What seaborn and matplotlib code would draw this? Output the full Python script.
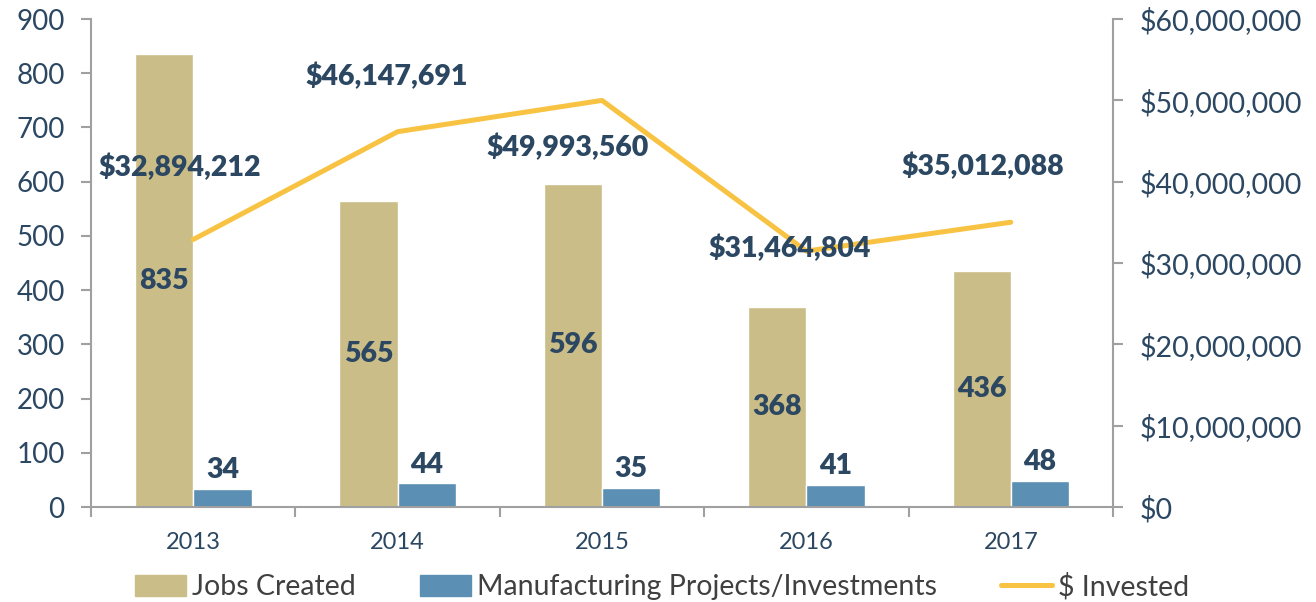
import pandas as pd
import numpy as np
import seaborn as sns
from matplotlib import pyplot as plt
from matplotlib.lines import Line2D
from matplotlib.patches import Patch

# datos
years = ['2013', '2014', '2015', '2016', '2017']
jobs_created = [835, 565, 596, 368, 436]
manufacturing = [34, 44, 35, 41, 48]
invested = [32894212, 46147691, 49993560, 31464804, 35012088]

# desplazamiento (puntos) de las etiquetas de la linea
label_offsets = [(-10, 52), (-8, 40), (-25, -34), (-12, 2), (-20, 40)]

c_tan = '#CABD87'
c_blue = '#5B8FB3'
c_line = '#F8C343'
c_text = '#2B4761'
c_axis = '#A0A0A0'

sns.set_style('white')
plt.rcParams['font.family'] = ['Lato', 'DejaVu Sans']

df = pd.DataFrame({
    'year': years * 2,
    'value': jobs_created + manufacturing,
    'serie': ['Jobs Created'] * 5 + ['Manufacturing Projects/Investments'] * 5,
})

fig = plt.figure(figsize=(13.16, 6.02), dpi=100)
ax = fig.add_axes([0.0692, 0.1578, 0.7765, 0.8106])
sns.barplot(data=df, x='year', y='value', hue='serie', palette=[c_tan, c_blue],
            width=0.57, gap=0, saturation=1, ax=ax, legend=False)
ax.set_xlim(-0.5, 4.5)
ax.set_ylim(0, 900)
ax.set_yticks(range(0, 901, 100))
ax.set_xlabel('')
ax.set_ylabel('')

ax2 = ax.twinx()
sns.lineplot(x=np.arange(5), y=invested, color=c_line, linewidth=3.6, ax=ax2)
ax2.set_ylim(0, 60000000)
ax2.set_yticks(range(0, 60000001, 10000000))
ax2.set_yticklabels(['${:,.0f}'.format(v) for v in ax2.get_yticks()])
ax.set_xlim(-0.5, 4.5)

# ejes
for a in (ax, ax2):
    for s in a.spines.values():
        s.set_color(c_axis)
        s.set_linewidth(1.5)
    a.spines['top'].set_visible(False)
ax.spines['right'].set_visible(False)
ax2.spines['left'].set_visible(False)
ax2.spines['bottom'].set_visible(False)

ax.tick_params(axis='y', direction='out', length=7, width=1.5, color=c_axis,
               labelsize=20, labelcolor=c_text, pad=12, left=True)
ax2.tick_params(axis='y', direction='out', length=7, width=1.5, color=c_axis,
                labelsize=20.5, labelcolor=c_text, pad=12, right=True)
ax.tick_params(axis='x', which='major', length=0, labelsize=17, labelcolor=c_text, pad=18)
ax.set_xticks(np.arange(-0.5, 5, 1), minor=True)
ax.tick_params(axis='x', which='minor', direction='out', length=7, width=1.5, color=c_axis, bottom=True)

# etiquetas de barras
ax.bar_label(ax.containers[0], label_type='center', fontsize=20.5, fontweight='heavy', color=c_text)
ax.bar_label(ax.containers[1], padding=4, fontsize=20.5, fontweight='heavy', color=c_text)

# etiquetas de la linea
for i, v in enumerate(invested):
    ax2.annotate('${:,.0f}'.format(v), (i, v), xytext=label_offsets[i], textcoords='offset points',
                 ha='center', va='center', fontsize=20.5, fontweight='heavy', color=c_text)

handles = [Patch(color=c_tan), Patch(color=c_blue), Line2D([], [], color=c_line, linewidth=3.6)]
fig.legend(handles, ['Jobs Created', 'Manufacturing Projects/Investments', '$ Invested'],
           loc='lower center', bbox_to_anchor=(0.503, -0.04), ncol=3, frameon=False,
           fontsize=20.5, labelcolor='#404040', handlelength=1.8, handleheight=0.8,
           handletextpad=0.2, columnspacing=2.25)

plt.savefig('out.png', dpi=100)
